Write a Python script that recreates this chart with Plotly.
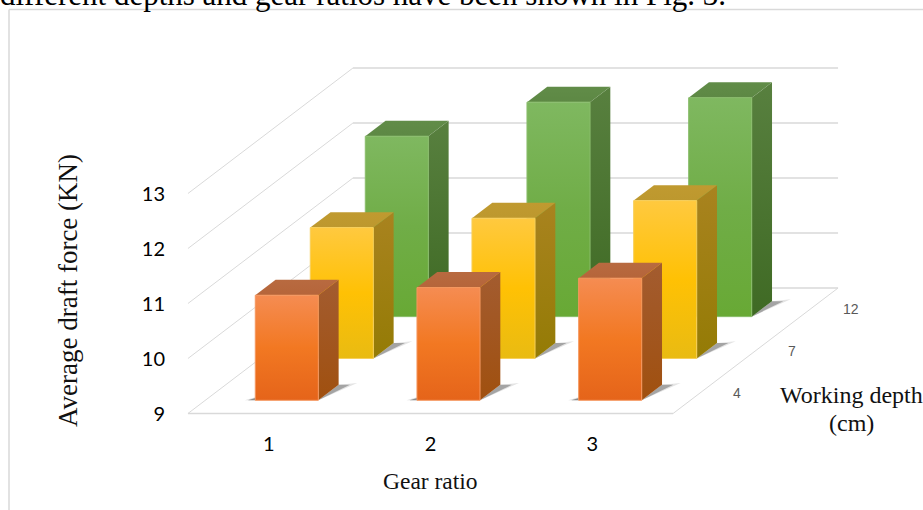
import plotly.graph_objects as go

# ---- data ----
gear_ratios = [1, 2, 3]
working_depths = [4, 7, 12]
draft_depth_4 = [10.91, 11.05, 11.22]
draft_depth_7 = [11.38, 11.55, 11.87]
draft_depth_12 = [12.28, 12.90, 12.98]
value_ticks = [9, 10, 11, 12, 13]

# ---- oblique projection of the 3D box onto the 2D axes ----
W, H = 923, 510
PX_GEAR, PX_VALUE = 161.7, 55.0
ORIGIN_X, ORIGIN_Y = 268.8, 413.5      # pixel of gear 1 / value 9 on the front plane
DEPTH_PX_X, DEPTH_PX_Y = 165.0, 125.5  # screen shift for the full floor depth
BAR_W, BAR_D = 0.39, 0.123
BAR_SHIFT = 0.004
BASE = 9
NO_LINE = dict(width=0, color="rgba(0,0,0,0)")


def proj(g, v, d):
    return g + d * DEPTH_PX_X / PX_GEAR, v + d * DEPTH_PX_Y / PX_VALUE


def poly(points, **kw):
    xs, ys = zip(*[proj(*p) for p in points + points[:1]])
    return go.Scatter(x=xs, y=ys, mode="lines", fill="toself", hoverinfo="skip", showlegend=False, **kw)


def line(points, color="#d9d9d9", width=1.2):
    xs, ys = zip(*[proj(*p) for p in points])
    return go.Scatter(x=xs, y=ys, mode="lines", line=dict(color=color, width=width), hoverinfo="skip", showlegend=False)


def vgrad(bottom, top, mid=None):
    scale = [[0, bottom], [0.5, mid], [1, top]] if mid else [[0, bottom], [1, top]]
    return dict(type="vertical", colorscale=scale)


STYLES = {
    4: dict(front=("#e5641a", "#f58c52", "#f27822"), side=("#a0500f", "#a35c30"), top=("#b5653a", "#b86a40"), edge="#f5985f"),
    7: dict(front=("#e9bb12", "#ffc93f", "#ffc104"), side=("#947b05", "#a9831f"), top=("#bd982e", "#c09a30"), edge="#f7cf5a"),
    12: dict(front=("#68a935", "#7fb860", "#70ad47"), side=("#3f6a24", "#58803f"), top=("#5d8844", "#618c48"), edge="#8abd6b"),
}

fig = go.Figure()

# walls and floor
g_l, g_r = gear_ratios[0] - 0.5, gear_ratios[-1] + 0.5
for v in value_ticks:
    fig.add_trace(line([(g_l, v, 0), (g_l, v, 1)], width=1.0))
    fig.add_trace(line([(g_l, v, 1), (g_r, v, 1)], width=1.6))
fig.add_trace(line([(g_l, BASE, 0), (g_r, BASE, 0)], width=1.6))
fig.add_trace(line([(g_r, BASE, 0), (g_r, BASE, 1)], width=1.0))

# bars, back row first
rows = [draft_depth_4, draft_depth_7, draft_depth_12]
for i in reversed(range(len(working_depths))):
    depth = working_depths[i]
    st = STYLES[depth]
    dc = (i + 0.5) / len(working_depths)
    d0, d1 = dc - BAR_D / 2, dc + BAR_D / 2
    for g, val in zip(gear_ratios, rows[i]):
        x0, x1 = g + BAR_SHIFT - BAR_W / 2, g + BAR_SHIFT + BAR_W / 2
        # floor shadows (soft rim, then core)
        fig.add_trace(poly([(x1, BASE, d0), (x1 + 0.1, BASE, d1 + 0.015), (x1, BASE, d1)],
                           line=NO_LINE, fillcolor="#e4e4e4"))
        fig.add_trace(poly([(x1, BASE, d0), (x1 + 0.07, BASE, d1), (x1, BASE, d1)],
                           line=NO_LINE, fillcolor="#a4a4a4"))
        fig.add_trace(poly([(x0 - 0.065, BASE, d0), (x0, BASE, d0), (x0, BASE, d0 + 0.04)],
                           line=NO_LINE, fillcolor="#e0e0e0"))
        fig.add_trace(poly([(x0 - 0.045, BASE, d0), (x0, BASE, d0), (x0, BASE, d0 + 0.03)],
                           line=NO_LINE, fillcolor="#8c8c8c"))
        # right side
        fig.add_trace(poly([(x1, BASE, d0), (x1, BASE, d1), (x1, val, d1), (x1, val, d0)],
                           line=NO_LINE, fillgradient=vgrad(*st["side"])))
        # top
        fig.add_trace(poly([(x0, val, d0), (x1, val, d0), (x1, val, d1), (x0, val, d1)],
                           line=NO_LINE, fillgradient=vgrad(*st["top"])))
        # front
        bot, top, mid = st["front"]
        fig.add_trace(poly([(x0, BASE, d0), (x1, BASE, d0), (x1, val, d0), (x0, val, d0)],
                           line=dict(width=1, color=st["edge"]),
                           fillgradient=vgrad(bot, top, mid)))

# depth labels
annotations = []
for i, depth in enumerate(working_depths):
    x, y = proj(gear_ratios[-1] + 0.5, BASE, (i + 0.5) / len(working_depths))
    annotations.append(dict(x=x, y=y, text=str(depth), showarrow=False, xanchor="left", xshift=30,
                            font=dict(family="Liberation Sans", size=14, color="#595959")))

SERIF = "Liberation Serif"
INK = "#111111"
paper = dict(xref="paper", yref="paper", showarrow=False, xanchor="center", yanchor="middle")
annotations += [
    dict(x=68 / W, y=1 - 291 / H, text="Average draft force (KN)", textangle=-90,
         font=dict(family=SERIF, size=27, color=INK), **paper),
    dict(x=430 / W, y=1 - 481 / H, text="Gear ratio", font=dict(family=SERIF, size=23.5, color=INK), **paper),
    dict(x=851 / W, y=1 - 395 / H, text="Working depth", font=dict(family=SERIF, size=24, color=INK), **paper),
    dict(x=851 / W, y=1 - 423 / H, text="(cm)", font=dict(family=SERIF, size=24, color=INK), **paper),
    dict(x=728 / W, y=1, xref="paper", yref="paper", showarrow=False, xanchor="right", yanchor="top", yshift=25,
         text="different depths and gear ratios have been shown in Fig. 3.",
         font=dict(family=SERIF, size=31, color="#000000")),
]

fig.update_layout(
    width=W, height=H, margin=dict(l=0, r=0, t=0, b=0, pad=0),
    paper_bgcolor="white", plot_bgcolor="white", showlegend=False,
    annotations=annotations,
    shapes=[
        dict(type="line", xref="paper", yref="paper", x0=9 / W, x1=9 / W, y0=0, y1=1 - 9.5 / H,
             line=dict(color="#d9d9d9", width=1.5)),
        dict(type="line", xref="paper", yref="paper", x0=9 / W, x1=1, y0=1 - 9.5 / H, y1=1 - 9.5 / H,
             line=dict(color="#d9d9d9", width=1.5)),
    ],
    xaxis=dict(
        range=[1 - ORIGIN_X / PX_GEAR, 1 + (W - ORIGIN_X) / PX_GEAR],
        tickmode="array", tickvals=gear_ratios, ticktext=[str(g) for g in gear_ratios],
        showgrid=False, zeroline=False, showline=False, ticks="",
        anchor="free", position=1 - 430 / H,
        tickfont=dict(family="Lato", size=20, color="#000000"),
    ),
    yaxis=dict(
        range=[BASE - (H - ORIGIN_Y) / PX_VALUE, BASE + ORIGIN_Y / PX_VALUE],
        tickmode="array", tickvals=value_ticks, ticktext=[str(v) for v in value_ticks],
        showgrid=False, zeroline=False, showline=False, ticks="",
        anchor="free", position=165 / W,
        tickfont=dict(family="Lato", size=20, color="#000000"),
    ),
)

fig.write_html("out.html", config=dict(displayModeBar=False),
               post_script="document.body.style.margin='0';document.body.style.overflow='hidden';")
